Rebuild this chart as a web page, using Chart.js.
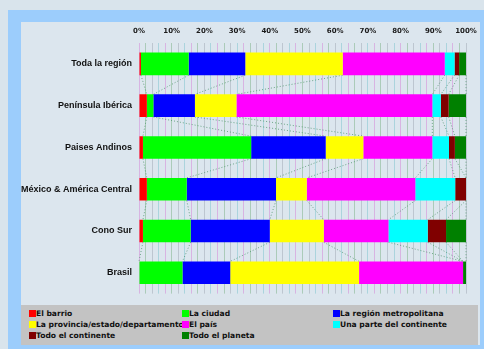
<!DOCTYPE html>
<html>
<head>
<meta charset="utf-8">
<script src="https://cdn.jsdelivr.net/npm/chart.js@4/dist/chart.umd.min.js"></script>
<style>
  html, body { margin: 0; padding: 0; }
  body { width: 484px; height: 349px; background: #d9e4ec; position: relative; overflow: hidden; }
  #frame { position: absolute; left: 8px; top: 10px; width: 476px; height: 339px; background: #9ccdfc; }
  #panel { position: absolute; left: 21px; top: 22px; width: 459px; height: 323px; background: #dce6ee; }
  #chartBox { position: absolute; left: 0; top: 0; width: 459px; height: 284px; }
  #legend { position: absolute; left: 0; top: 283px; width: 457px; height: 40px; background: #c3c3c3;
            font: bold 7.6px "DejaVu Sans", Verdana, sans-serif; color: #111; }
  .item { position: absolute; white-space: nowrap; line-height: 9px; }
  .sw { display: inline-block; width: 7px; height: 7px; vertical-align: -1px; }
</style>
</head>
<body>
<div id="frame"></div>
<div id="panel">
  <div id="chartBox"><canvas id="c" width="459" height="284"></canvas></div>
  <div id="legend"></div>
</div>
<script>
// Regions (rows of the chart)
const categories = ['Toda la región', 'Península Ibérica', 'Paises Andinos', 'México & América Central', 'Cono Sur', 'Brasil'];

// Share of answers per scope, in percent, one value per region
const elBarrio        = [0.6, 2.4, 1.2, 2.4, 1.2, 0];
const laCiudad        = [14.6, 2.0, 33.1, 12.2, 14.6, 13.3];
const laRegionMetro   = [17.3, 12.7, 22.8, 27.3, 24.2, 14.6];
const laProvincia     = [29.8, 12.7, 11.5, 9.4, 16.5, 39.4];
const elPais          = [31.2, 59.9, 21.1, 33.2, 19.8, 31.8];
const parteContinente = [3.0, 2.6, 5.1, 12.2, 12.0, 0];
const todoContinente  = [1.4, 2.4, 1.8, 3.3, 5.6, 0];
const todoPlaneta     = [2.1, 5.3, 3.4, 0, 6.1, 0.9];

const seriesNames = ['El barrio', 'La ciudad', 'La región metropolitana', 'La provincia/estado/departamento',
                     'El país', 'Una parte del continente', 'Todo el continente', 'Todo el planeta'];
const seriesValues = [elBarrio, laCiudad, laRegionMetro, laProvincia, elPais, parteContinente, todoContinente, todoPlaneta];
const seriesColors = ['#ff0000', '#00ff00', '#0000ff', '#ffff00', '#ff00ff', '#00ffff', '#800000', '#008000'];

// Axis tick labels every 10 %
const tickLabels = [0, 10, 20, 30, 40, 50, 60, 70, 80, 90, 100];

const gridColors = ['rgba(210,120,210,0.45)', 'rgba(110,170,120,0.45)', 'rgba(150,160,170,0.45)', 'rgba(110,190,200,0.45)'];

// Dotted connectors between the ends of each series on neighbouring bars
const seriesLines = {
  id: 'seriesLines',
  beforeDatasetsDraw(chart) {
    const { ctx } = chart;
    const xs = chart.scales.x, ys = chart.scales.y;
    const meta0 = chart.getDatasetMeta(0);
    ctx.save();
    ctx.strokeStyle = 'rgba(80,150,110,0.8)';
    ctx.lineWidth = 1;
    ctx.setLineDash([1, 2]);
    for (let i = 0; i < categories.length - 1; i++) {
      const h0 = meta0.data[i].height, h1 = meta0.data[i + 1].height;
      const yA = ys.getPixelForValue(i) + h0 / 2;
      const yB = ys.getPixelForValue(i + 1) - h1 / 2;
      let cA = 0, cB = 0;
      for (let k = 0; k < seriesValues.length; k++) {
        cA += seriesValues[k][i];
        cB += seriesValues[k][i + 1];
        ctx.beginPath();
        ctx.moveTo(xs.getPixelForValue(cA), yA);
        ctx.lineTo(xs.getPixelForValue(cB), yB);
        ctx.stroke();
      }
    }
    ctx.restore();
  }
};

new Chart(document.getElementById('c'), {
  type: 'bar',
  data: {
    labels: categories,
    datasets: seriesNames.map((name, k) => ({
      label: name,
      data: seriesValues[k],
      backgroundColor: seriesColors[k],
      borderWidth: 0,
      categoryPercentage: 1,
      barPercentage: 0.54
    }))
  },
  options: {
    indexAxis: 'y',
    responsive: false,
    animation: false,
    layout: { padding: { left: 0, right: 14, top: 0, bottom: 0 } },
    plugins: { legend: { display: false }, tooltip: { enabled: false } },
    scales: {
      x: {
        stacked: true,
        position: 'top',
        min: 0, max: 100,
        afterBuildTicks(scale) {
          const t = [];
          for (let v = 0; v <= 100; v += 2) t.push({ value: v });
          scale.ticks = t;
        },
        afterFit(scale) {
          scale.height = 21;
          scale.paddingLeft = 0;
          scale.paddingRight = 0;
        },
        ticks: {
          autoSkip: false,
          maxRotation: 0,
          padding: 8,
          color: '#1a1a1a',
          font: { family: 'DejaVu Sans', weight: 'bold', size: 7 },
          callback: (v) => tickLabels.includes(v) ? v + '%' : ''
        },
        grid: {
          drawTicks: false,
          tickLength: 0,
          color: (c) => gridColors[(c.index || 0) % gridColors.length],
          lineWidth: 1
        },
        border: { display: false }
      },
      y: {
        stacked: true,
        afterFit(scale) { scale.width = 118; },
        ticks: {
          padding: 7,
          color: '#111',
          font: { family: 'Liberation Sans', weight: 'bold', size: 9 }
        },
        grid: { display: false, drawTicks: false, tickLength: 0 },
        border: { display: false }
      }
    }
  },
  plugins: [seriesLines, {
    id: 'dashGrid',
    beforeDraw(chart) { chart.scales.x.options.grid.borderDash = [1, 2]; }
  }]
});

// Legend in three columns
const legend = document.getElementById('legend');
const colX = [8, 161, 312];
const rowY = [4, 15, 26];
seriesNames.forEach((name, k) => {
  const d = document.createElement('div');
  d.className = 'item';
  d.style.left = colX[k % 3] + 'px';
  d.style.top = rowY[Math.floor(k / 3)] + 'px';
  d.innerHTML = '<span class="sw" style="background:' + seriesColors[k] + '"></span>' + name;
  legend.appendChild(d);
});
</script>
</body>
</html>
